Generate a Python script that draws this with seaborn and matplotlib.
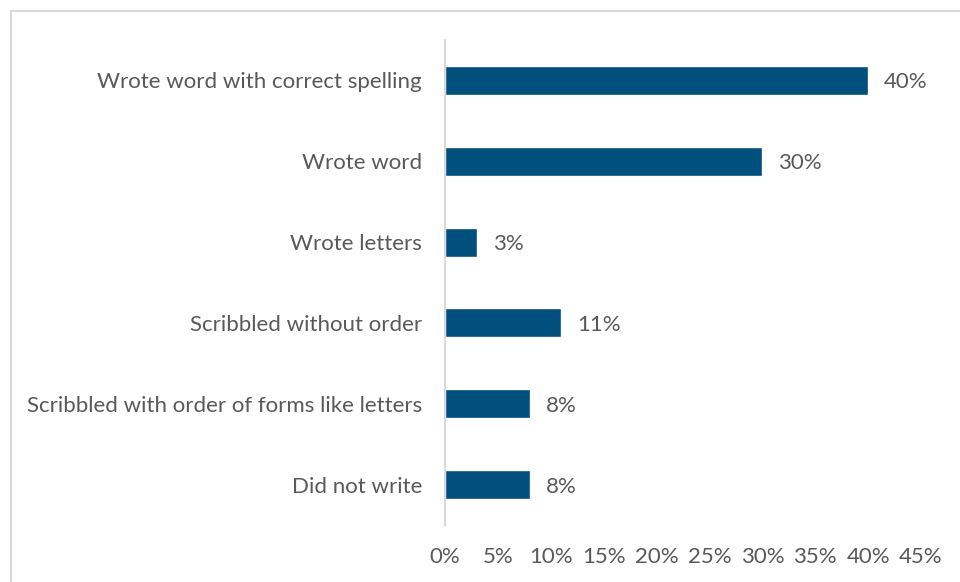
import matplotlib
matplotlib.use("Agg")
import matplotlib.pyplot as plt
import seaborn as sns
import pandas as pd
from matplotlib.patches import Rectangle
from matplotlib.ticker import FuncFormatter

categories = [
    "Wrote word with correct spelling",
    "Wrote word",
    "Wrote letters",
    "Scribbled without order",
    "Scribbled with order of forms like letters",
    "Did not write",
]
values = [40, 30, 3, 11, 8, 8]
xticks = [0, 5, 10, 15, 20, 25, 30, 35, 40, 45]

df = pd.DataFrame({"category": categories, "value": values})

sns.set_theme(style="white")
plt.rcParams["font.family"] = ["Lato", "DejaVu Sans"]

text_color = "#595959"
bar_color = "#004F7C"
grid_color = "#D9D9D9"
fs = 16

fig = plt.figure(figsize=(9.6, 5.82), dpi=100)
ax = fig.add_axes([445 / 960, 1 - 525 / 582, (921 - 445) / 960, (525 - 40) / 582])

sns.barplot(data=df, x="value", y="category", orient="h", color=bar_color,
            width=0.36, saturation=1, ax=ax)

ax.set_xlim(0, 45)
ax.set_ylim(5.5, -0.5)
ax.set_xticks(xticks)
ax.xaxis.set_major_formatter(FuncFormatter(lambda v, _: f"{v:.0f}%"))
ax.set_xlabel("")
ax.set_ylabel("")

for s in ["top", "right", "bottom"]:
    ax.spines[s].set_visible(False)
ax.spines["left"].set_color(grid_color)
ax.spines["left"].set_linewidth(1.5)

ax.tick_params(axis="x", length=0, pad=16, labelsize=fs, labelcolor=text_color)
ax.tick_params(axis="y", length=0, pad=16.5, labelsize=fs, labelcolor=text_color)

for i, v in enumerate(values):
    ax.text(v + 1.5, i, f"{v}%", va="center_baseline", ha="left",
            fontsize=fs, color=text_color)

# light frame around the chart area
fig.patches.append(Rectangle((10.5 / 960, -0.05), 1.2, 1 - 10.5 / 582 + 0.05,
                             transform=fig.transFigure, fill=False,
                             edgecolor=grid_color, linewidth=1.5))

fig.savefig("out.png", dpi=100)
